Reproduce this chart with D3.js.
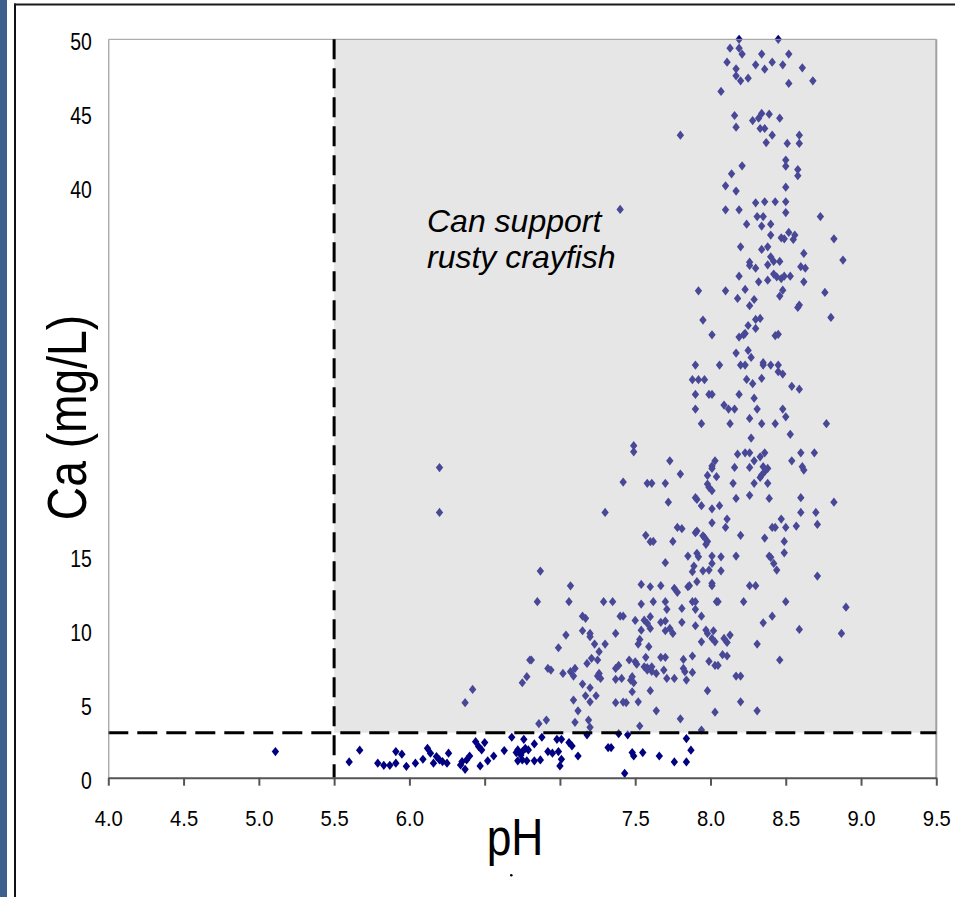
<!DOCTYPE html>
<html>
<head>
<meta charset="utf-8">
<script src="https://cdn.jsdelivr.net/npm/d3@7"></script>
<style>
  html, body { margin: 0; padding: 0; background: #fff; }
  svg { display: block; }
</style>
</head>
<body>
<svg id="chart" width="955" height="897"></svg>
<script>
// Axis ticks (6.5 and 7.0 carry no label)
const xTickValues = [4.0, 4.5, 5.0, 5.5, 6.0, 6.5, 7.0, 7.5, 8.0, 8.5, 9.0, 9.5];
const xTickLabels = ["4.0", "4.5", "5.0", "5.5", "6.0", "", "", "7.5", "8.0", "8.5", "9.0", "9.5"];
const yTickValues = [0, 5, 10, 15, 40, 45, 50];

// Habitat thresholds for rusty crayfish
const phLimit = 5.5;
const caLimit = 3.05;

// Lake samples as [pH, Ca mg/L]
const lowCaSamples = [
  [5.11,1.77],[5.60,1.07],[5.67,1.86],[5.79,0.98],[5.83,0.84],[5.87,0.84],[5.91,0.98],[5.91,1.77],
  [5.95,1.59],[5.98,0.77],[6.04,0.98],[6.09,1.25],[6.12,1.99],[6.14,1.66],[6.16,0.98],[6.18,1.43],
  [6.20,1.20],[6.22,1.09],[6.25,0.98],[6.26,1.66],[6.34,0.86],[6.35,1.09],[6.37,0.57],[6.38,1.20],
  [6.40,1.47],[6.44,2.44],[6.46,2.11],[6.47,0.80],[6.50,2.38],[6.48,1.88],[6.52,1.14],[6.56,1.47],
  [6.63,1.84],[6.68,2.74],[6.71,1.70],[6.72,1.88],[6.74,1.54],[6.75,1.77],[6.77,1.99],[6.79,1.88],
  [6.76,2.60],[6.72,1.14],[6.75,1.20],[6.78,1.14],[6.83,2.29],[6.83,1.14],[6.87,1.20],[6.88,2.74],
  [6.92,1.77],[6.95,1.66],[6.99,1.77],[6.98,2.60],[7.01,2.60],[7.01,1.25],[7.00,0.80],[7.06,2.38],
  [7.08,2.15],[7.12,1.47],[7.18,2.90],[7.32,2.04],[7.34,2.04],[7.39,2.98],[7.45,2.90],[7.43,0.30],
  [7.48,1.70],[7.49,1.47],[7.55,1.70],[7.66,1.47],[7.76,1.07],[7.84,1.07],[7.84,2.65],[7.87,1.86]
];

const midCaSamples = [
  [6.87,13.99],[7.07,12.99],[6.85,11.92],[7.06,11.92],[7.29,11.92],[7.35,11.92],[7.54,13.09],[7.54,11.76],
  [7.15,10.94],[7.17,10.79],[7.40,10.94],[7.42,10.94],[7.50,10.65],[7.56,10.67],[7.58,10.45],[7.15,9.95],
  [7.20,9.77],[7.20,9.55],[7.37,9.77],[7.04,9.66],[7.54,9.99],[7.53,9.36],[7.52,9.05],[7.23,9.05],
  [7.30,9.05],[6.99,8.80],[7.26,8.53],[7.59,8.87],[6.80,7.97],[6.81,7.97],[7.21,8.08],[7.25,7.97],
  [7.18,7.74],[7.46,7.97],[7.50,7.85],[7.51,7.69],[7.57,8.15],[6.92,7.40],[6.94,7.29],[7.02,7.06],
  [7.07,7.18],[7.10,7.40],[7.09,6.88],[7.26,7.06],[7.27,6.72],[7.25,6.88],[7.37,7.40],[7.39,7.60],
  [7.37,6.66],[7.41,6.72],[7.48,6.84],[7.49,6.43],[7.47,6.60],[7.56,7.51],[7.58,7.29],[7.58,7.45],
  [7.61,7.20],[6.78,6.84],[6.75,6.43],[7.15,6.34],[7.20,6.09],[7.17,5.55],[7.20,5.14],[7.24,5.55],
  [7.37,5.08],[7.42,5.12],[7.44,5.08],[7.52,5.14],[7.48,5.82],[7.09,5.26],[6.42,5.98],[6.37,5.08],
  [7.12,4.53],[7.10,3.75],[7.19,3.90],[7.20,3.41],[6.86,3.66],[6.91,3.90],[7.53,3.50],
  [8.49,15.23],[7.85,15.01],[7.91,15.19],[7.92,14.96],[8.01,15.01],[8.07,14.96],[8.17,15.01],[8.39,15.01],
  [8.40,14.92],[7.70,14.56],[7.89,14.33],[7.88,13.95],[8.01,14.51],[7.99,14.06],[7.95,14.01],[8.07,14.01],
  [8.42,14.51],[8.44,14.06],[8.71,13.65],[7.60,12.93],[7.67,13.00],[7.76,12.82],[7.78,12.55],[7.86,13.00],
  [7.85,12.93],[7.91,13.27],[8.01,13.16],[8.01,13.00],[8.26,13.00],[8.30,13.00],[7.62,11.92],[7.70,11.92],
  [7.88,11.92],[7.90,11.92],[8.04,11.92],[8.05,11.92],[8.22,11.92],[8.50,11.92],[7.71,11.40],[7.81,11.46],
  [7.90,11.40],[7.94,10.94],[8.90,11.55],[7.60,10.90],[7.67,10.52],[7.70,10.61],[7.81,10.52],[7.90,10.29],
  [8.41,10.94],[8.35,10.49],[8.59,10.04],[8.87,9.77],[7.60,10.11],[7.70,9.95],[7.73,10.11],[7.75,9.77],
  [7.97,10.00],[7.98,9.77],[8.02,9.95],[8.01,9.43],[8.03,9.20],[7.94,9.20],[8.09,9.43],[8.11,9.16],
  [8.13,9.66],[8.31,9.05],[7.67,8.15],[7.70,8.15],[7.82,8.01],[7.88,8.24],[7.99,7.88],[8.03,7.60],
  [8.05,7.60],[8.08,8.33],[8.11,8.24],[8.46,7.97],[7.61,7.51],[7.64,7.06],[7.69,7.29],[7.82,7.40],
  [7.83,7.18],[7.84,6.61],[7.88,7.13],[7.71,6.72],[7.76,6.72],[8.17,6.88],[8.20,6.88],[7.60,5.89],
  [7.98,5.89],[8.20,5.14],[7.64,4.53],[8.03,4.44],[8.31,4.53],[7.80,3.99],[7.94,3.23]
];

const highCaSamples = [
  [6.20,21.00],[6.20,17.96],[7.49,22.48],[7.49,22.07],[7.42,20.02],[7.58,19.93],[7.30,17.96],[7.57,16.41],
  [7.60,15.98],[7.40,38.48],
  [8.26,31.96],[8.58,31.84],[8.59,32.00],[8.80,31.17],[7.95,30.99],[8.30,31.03],[8.33,31.10],[8.25,30.62],
  [8.30,30.42],[8.01,29.99],[8.19,29.84],[8.22,29.99],[8.23,30.08],[8.43,29.93],[8.45,30.02],[8.17,28.75],
  [8.25,28.93],[8.27,28.46],[7.90,27.94],[8.06,27.94],[8.20,27.94],[8.23,27.94],[8.35,28.10],[8.35,27.94],
  [8.40,27.94],[8.45,27.94],[8.45,27.49],[8.48,27.33],[7.88,26.95],[7.92,26.95],[7.96,26.95],[8.24,26.97],
  [8.28,26.68],[8.34,27.04],[8.54,26.50],[8.59,26.31],[7.90,25.95],[7.99,25.95],[8.01,25.95],[8.19,25.95],
  [8.29,25.70],[7.90,24.96],[8.09,25.23],[8.12,24.96],[8.16,24.96],[8.31,24.96],[8.48,24.96],[8.50,24.44],
  [7.94,23.97],[8.13,23.97],[8.26,24.33],[8.34,23.97],[8.43,23.97],[8.77,23.97],[8.53,23.25],[8.27,23.00],
  [8.18,21.91],[8.23,22.00],[8.26,22.00],[8.36,22.00],[8.33,21.73],[8.29,21.46],[8.60,22.00],[8.69,22.00],
  [8.54,21.46],[7.73,21.46],[8.03,21.46],[8.01,21.10],[8.01,20.94],[8.16,21.01],[8.26,21.01],[8.35,21.06],
  [8.38,20.94],[8.36,20.72],[8.61,21.06],[8.62,20.83],[7.80,20.56],[7.98,20.47],[8.04,20.38],[8.34,20.49],
  [8.33,20.33],[7.61,19.93],[7.70,19.93],[7.98,19.88],[7.99,19.66],[8.01,19.43],[8.15,19.93],[8.29,19.93],
  [8.38,19.93],[7.72,18.66],[7.90,18.96],[7.91,18.84],[7.94,18.42],[8.01,18.21],[8.06,18.42],[8.17,18.91],
  [8.26,19.12],[8.39,18.91],[8.60,18.96],[8.82,18.66],[8.60,17.96],[8.70,17.96],[8.71,17.15],[8.11,17.51],
  [8.10,16.95],[8.01,17.26],[7.78,16.95],[7.81,16.86],[7.90,16.59],[7.91,16.70],[7.95,16.38],[7.96,16.27],
  [7.98,16.00],[7.97,15.80],[8.20,16.41],[8.36,16.23],[8.41,16.95],[8.43,16.95],[8.47,17.51],[8.50,16.95],
  [8.57,17.04],[8.49,16.00],[7.75,16.00],[7.62,16.00],
  [8.19,50.00],[8.45,50.00],[8.13,49.40],[8.19,49.40],[8.21,49.00],[8.34,49.00],[8.52,49.00],[8.11,48.45],
  [8.30,48.27],[8.36,47.98],[8.41,48.45],[8.48,48.27],[8.61,48.07],[8.17,48.00],[8.17,47.53],[8.25,47.37],
  [8.20,47.19],[8.52,47.01],[8.68,47.19],[8.07,46.47],[8.16,44.84],[8.17,44.05],[8.28,44.50],[8.32,44.66],
  [8.34,44.98],[8.39,44.93],[8.46,44.66],[8.33,43.96],[8.36,43.96],[8.41,43.51],[8.37,43.01],[8.51,42.95],
  [8.59,43.51],[8.59,42.95],[7.80,43.51],[8.21,41.43],[8.14,40.89],[8.50,41.82],[8.50,41.41],[8.58,41.18],
  [8.58,40.76],[8.10,40.08],[8.17,39.72],[8.50,39.99],[8.30,38.93],[8.36,39.00],[8.43,39.00],[8.50,39.00],
  [8.10,38.45],[8.19,38.45],[8.50,38.27],[8.73,38.00],[8.31,38.00],[8.35,38.00],[8.34,37.35],[8.40,37.48],
  [8.24,37.48],[8.40,36.74],[8.47,36.56],[8.49,36.49],[8.52,36.92],[8.56,36.74],[8.55,36.45],[8.82,36.49],
  [8.20,35.95],[8.34,35.77],[8.38,35.95],[8.62,35.50],[8.88,35.05],[8.40,35.27],[8.42,34.96],[8.46,34.96],
  [8.26,34.91],[8.26,34.69],[8.30,34.50],[8.38,34.73],[8.60,34.60],[8.63,34.50],[8.19,33.96],[8.42,34.10],
  [8.44,33.92],[8.47,33.80],[8.49,33.96],[8.53,33.96],[8.32,33.58],[8.38,33.69],[8.62,33.58],[7.92,32.97],
  [8.10,32.97],[8.23,33.06],[8.48,33.01],[8.46,32.61],[8.76,32.86],[8.18,32.45],[8.29,32.38]
];

const samples = lowCaSamples.concat(midCaSamples, highCaSamples);

const svg = d3.select("#chart");
const FONT = "'Liberation Sans', Arial, sans-serif";

const x = d3.scaleLinear().domain([4, 9.5]).range([108.3, 936.3]);
const y = d3.scaleLinear().domain([0, 50]).range([777.7, 39.3]);

// Page frame
svg.append("rect").attr("x", 0).attr("y", 0).attr("width", 7).attr("height", 897).attr("fill", "#3d5f8d");
svg.append("line").attr("x1", 15).attr("x2", 15).attr("y1", 3.5).attr("y2", 897)
  .attr("stroke", "#111").attr("stroke-width", 2);
svg.append("line").attr("x1", 14).attr("x2", 955).attr("y1", 4.5).attr("y2", 4.5)
  .attr("stroke", "#1a1a1a").attr("stroke-width", 2);

// Diamond marker, slightly taller than wide
const diamond = {
  draw(ctx, size) {
    const h = Math.sqrt(size / 1.6), w = 0.8 * h;
    ctx.moveTo(0, -h); ctx.lineTo(w, 0); ctx.lineTo(0, h); ctx.lineTo(-w, 0); ctx.closePath();
  }
};
const marker = d3.symbol().type(diamond).size(34);

svg.append("g").selectAll("path").data(samples).join("path")
  .attr("d", marker)
  .attr("transform", d => `translate(${x(d[0])},${y(d[1])})`)
  .attr("fill", "#000080");

// Shaded zone where rusty crayfish can live
svg.append("rect")
  .attr("x", x(phLimit)).attr("y", y(50))
  .attr("width", x(9.5) - x(phLimit)).attr("height", y(caLimit) - y(50))
  .attr("fill", "rgb(190,190,190)").attr("fill-opacity", 0.38);

// Plot area outline
svg.append("line").attr("x1", x(4)).attr("x2", x(9.5)).attr("y1", y(50)).attr("y2", y(50))
  .attr("stroke", "#999").attr("stroke-width", 1);
svg.append("line").attr("x1", x(9.5)).attr("x2", x(9.5)).attr("y1", y(50)).attr("y2", y(0))
  .attr("stroke", "#a0a0a0").attr("stroke-width", 2);

// Threshold lines
svg.append("line")
  .attr("x1", x(4)).attr("x2", x(9.5)).attr("y1", y(caLimit)).attr("y2", y(caLimit))
  .attr("stroke", "#000").attr("stroke-width", 3).attr("stroke-dasharray", "20,9");
svg.append("line")
  .attr("x1", x(phLimit)).attr("x2", x(phLimit)).attr("y1", y(50)).attr("y2", y(0))
  .attr("stroke", "#000").attr("stroke-width", 3).attr("stroke-dasharray", "20,9");

// Y axis
const gy = svg.append("g").attr("transform", `translate(${x(4)},0)`)
  .call(d3.axisLeft(y).tickValues(yTickValues).tickSize(0).tickSizeOuter(0).tickFormat(d3.format("d")));
gy.select(".domain").attr("stroke", "#888").attr("stroke-width", 1);
gy.selectAll("text")
  .attr("x", null).attr("dy", null)
  .attr("transform", "translate(-16.5,10.5) scale(0.81,1)")
  .attr("text-anchor", "end")
  .attr("fill", "#000")
  .style("font-family", FONT).style("font-size", "24px");

// X axis
const gx = svg.append("g").attr("transform", `translate(0,${y(0)})`)
  .call(d3.axisBottom(x).tickValues(xTickValues).tickSize(8).tickSizeOuter(0)
    .tickFormat((d, i) => xTickLabels[i]));
gx.select(".domain").attr("stroke", "#555").attr("stroke-width", 2);
gx.selectAll(".tick line").attr("stroke", "#555").attr("stroke-width", 2);
gx.selectAll("text")
  .attr("y", null).attr("dy", null)
  .attr("transform", "translate(0,48.5) scale(0.92,1)")
  .attr("fill", "#000")
  .style("font-family", FONT).style("font-size", "22px");

// Axis titles
svg.append("text")
  .attr("transform", "translate(86,417.5) rotate(-90) scale(0.84,1)")
  .attr("text-anchor", "middle")
  .style("font-family", FONT).style("font-size", "55px")
  .text("Ca (mg/L)");
svg.append("text")
  .attr("transform", "translate(515,855) scale(0.87,1)")
  .attr("text-anchor", "middle")
  .style("font-family", FONT).style("font-size", "51px")
  .text("pH");
// small stray mark under the pH title
svg.append("circle").attr("cx", 511.3).attr("cy", 875.3).attr("r", 1.3).attr("fill", "#000");

// Zone annotation
const note = svg.append("text")
  .style("font-family", FONT).style("font-size", "32px").style("font-style", "italic");
note.append("tspan").attr("x", 427).attr("y", 231.5).text("Can support");
note.append("tspan").attr("x", 427).attr("y", 268).text("rusty crayfish");
</script>
</body>
</html>
